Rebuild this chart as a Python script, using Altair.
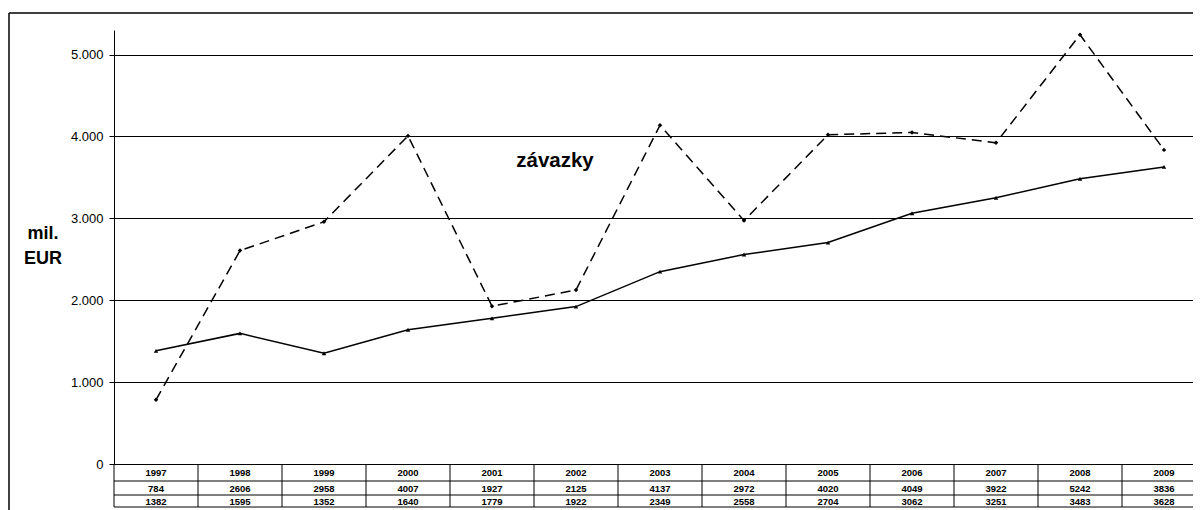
import altair as alt
import pandas as pd

years = [1997, 1998, 1999, 2000, 2001, 2002, 2003, 2004, 2005, 2006, 2007, 2008, 2009]
zavazky = [784, 2606, 2958, 4007, 1927, 2125, 4137, 2972, 4020, 4049, 3922, 5242, 3836]
pohledavky = [1382, 1595, 1352, 1640, 1779, 1922, 2349, 2558, 2704, 3062, 3251, 3483, 3628]
y_ticks = [0, 1000, 2000, 3000, 4000, 5000]

wide = pd.DataFrame({"rok": years, "zavazky": zavazky, "pohledavky": pohledavky})
long = wide.melt("rok", var_name="rada", value_name="hodnota")
one = pd.DataFrame({"k": [0]})

FONT = "Liberation Sans"
W_RANGE = 1092
H = 434

xscale = alt.Scale(domain=[1996.5, 2009.5], range=[0, W_RANGE])
yscale = alt.Scale(domain=[0, 5300], nice=False, zero=True)

X = alt.X("rok:Q", scale=xscale, axis=None)
Y = alt.Y(
    "hodnota:Q",
    scale=yscale,
    axis=alt.Axis(
        values=y_ticks, grid=True, gridColor="black", gridOpacity=1, gridWidth=1,
        domainColor="black", domainWidth=1, tickColor="black", tickSize=5,
        labelFont=FONT, labelFontSize=13, labelColor="black", labelPadding=6,
        labelExpr="replace(format(datum.value, ','), ',', '.')", title=None,
    ),
)

base = alt.Chart(long)

axis_layer = base.mark_line(opacity=0).encode(x=X, y=Y)

dashed = base.transform_filter(alt.datum.rada == "zavazky").mark_line(
    color="black", strokeDash=[10, 6], strokeWidth=1.5
).encode(x=X, y=alt.Y("hodnota:Q", scale=yscale))
dashed_pts = base.transform_filter(alt.datum.rada == "zavazky").mark_point(
    color="black", filled=True, shape="diamond", size=20, opacity=1
).encode(x=X, y=alt.Y("hodnota:Q", scale=yscale))

solid = base.transform_filter(alt.datum.rada == "pohledavky").mark_line(
    color="black", strokeWidth=1.5
).encode(x=X, y=alt.Y("hodnota:Q", scale=yscale))
solid_pts = base.transform_filter(alt.datum.rada == "pohledavky").mark_point(
    color="black", filled=True, shape="triangle-up", size=20, opacity=1
).encode(x=X, y=alt.Y("hodnota:Q", scale=yscale))

# table
TOP, L1, L2, BOT = 434, 451, 465, 477
tb = alt.Chart(wide)
col_lines = tb.transform_calculate(hranice="datum.rok - 0.5").mark_rule(
    color="black", strokeWidth=1
).encode(x=alt.X("hranice:Q", scale=xscale, axis=None), y=alt.value(TOP), y2=alt.value(BOT))
row_lines = alt.layer(*[
    alt.Chart(one).mark_rule(color="black", strokeWidth=1).encode(
        x=alt.value(0), x2=alt.value(W_RANGE), y=alt.value(v)
    ) for v in (L1, L2, BOT)
])
txt_kw = dict(font=FONT, fontSize=9.5, fontWeight="bold", color="black", baseline="middle")
t_year = tb.mark_text(**txt_kw).encode(x=X, y=alt.value(443), text=alt.Text("rok:Q", format="d"))
t_z = tb.mark_text(**txt_kw).encode(x=X, y=alt.value(458.5), text=alt.Text("zavazky:Q", format="d"))
t_p = tb.mark_text(**txt_kw).encode(x=X, y=alt.value(471.5), text=alt.Text("pohledavky:Q", format="d"))

# frame
frame_left = alt.Chart(one).mark_rule(color="black", strokeWidth=1.5).encode(
    x=alt.value(-105), y=alt.value(-17), y2=alt.value(490))
frame_top = alt.Chart(one).mark_rule(color="black", strokeWidth=1.5).encode(
    x=alt.value(-105), x2=alt.value(1120), y=alt.value(-17))

lab_kw = dict(font=FONT, fontWeight="bold", color="black", align="center", baseline="middle")
t_mil = alt.Chart(one).mark_text(fontSize=18, **lab_kw).encode(
    x=alt.value(-71), y=alt.value(204), text=alt.value("mil."))
t_eur = alt.Chart(one).mark_text(fontSize=18, **lab_kw).encode(
    x=alt.value(-71), y=alt.value(229), text=alt.value("EUR"))
t_zav = alt.Chart(one).mark_text(fontSize=20.5, **lab_kw).encode(
    x=alt.value(441), y=alt.value(131), text=alt.value("závazky"))

chart = alt.layer(
    axis_layer, col_lines, row_lines, t_year, t_z, t_p,
    dashed, solid, dashed_pts, solid_pts,
    frame_left, frame_top, t_mil, t_eur, t_zav,
).properties(
    width=1079, height=H,
    autosize=alt.AutoSizeParams(type="none"),
    padding={"left": 106, "top": 22, "right": 0, "bottom": 46},
).configure_view(stroke=None)

chart.save("out.html", embed_options={"renderer": "svg", "actions": False})
